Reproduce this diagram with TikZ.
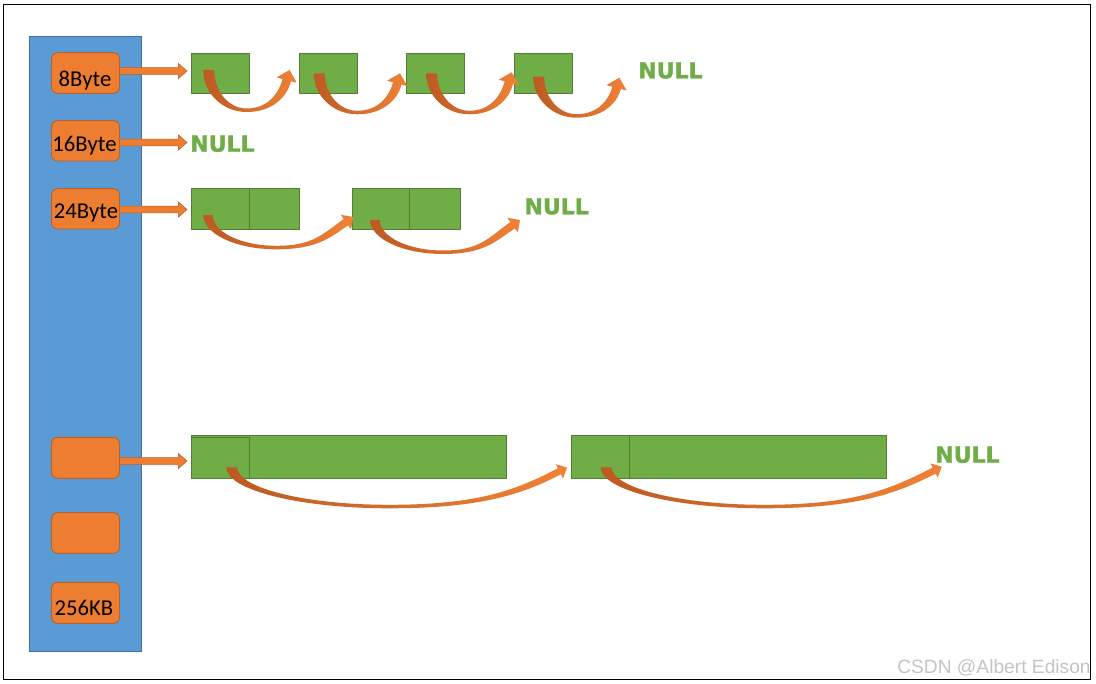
\documentclass[tikz,border=0pt]{standalone}
\usepackage{fontspec}
\setmainfont{Carlito}
\newfontfamily\dvs{DejaVu Sans}[BoldFeatures={FakeBold=1.6}]
\newfontfamily\lib{Liberation Sans}
\usetikzlibrary{calc}
\definecolor{blu}{HTML}{5B9BD5}
\definecolor{bluB}{HTML}{41719C}
\definecolor{org}{HTML}{ED7D31}
\definecolor{orgB}{HTML}{B8612A}
\definecolor{grn}{HTML}{70AD47}
\definecolor{grnB}{HTML}{507E32}
\definecolor{crvD}{HTML}{BC5A22}
\definecolor{crvL}{HTML}{F08236}
\definecolor{wmc}{HTML}{C4C4C4}
\newcommand\boxnode[6]{\node[#1, minimum width={(#5-#3)*0.75pt}, minimum height={(#6-#4)*0.75pt}] (#2) at ({(#3+#5)/2},{(#4+#6)/2}) {};}
\newcommand\harrow[2]{\path[sarr] let \p1=(#1), \p2=(#2) in (\x1,{\y2+2.5pt}) -- ({\x2-6.4pt},{\y2+2.5pt}) -- ({\x2-6.4pt},{\y2+5.6pt}) -- (\x2,\y2) -- ({\x2-6.4pt},{\y2-5.6pt}) -- ({\x2-6.4pt},{\y2-2.5pt}) -- (\x1,{\y2-2.5pt}) -- cycle;}
% #1 tx #2 ty #3 px #4 py #5 depth #6 angle #7 head half width #8 head length #9 tail half width
\newcommand\carrow[9]{%
\pgfmathsetmacro\caUx{cos(#6)}%
\pgfmathsetmacro\caUy{-sin(#6)}%
\pgfmathsetmacro\caNx{sin(#6)}%
\pgfmathsetmacro\caNy{cos(#6)}%
\pgfmathsetmacro\caHx{#3-#8*(\caUx)}%
\pgfmathsetmacro\caHy{#4-#8*(\caUy)}%
\pgfmathsetmacro\caSw{0.42*#7}%
\pgfmathsetmacro\caBx{#1+0.47*(#3-#1)}%
\pgfmathsetmacro\caBo{#2+#5}%
\pgfmathsetmacro\caBi{#2+#5-3.5}%
\pgfmathsetmacro\caOx{\caHx+\caSw*(\caNx)}%
\pgfmathsetmacro\caOy{\caHy+\caSw*(\caNy)}%
\pgfmathsetmacro\caIx{\caHx-\caSw*(\caNx)}%
\pgfmathsetmacro\caIy{\caHy-\caSw*(\caNy)}%
\pgfmathsetmacro\caRx{\caHx+#7*(\caNx)}%
\pgfmathsetmacro\caRy{\caHy+#7*(\caNy)}%
\pgfmathsetmacro\caLx{\caHx-#7*(\caNx)}%
\pgfmathsetmacro\caLy{\caHy-#7*(\caNy)}%
\pgfmathsetmacro\caLo{0.552*(\caBo-\caOy)/sin(#6)}%
\pgfmathsetmacro\caLi{0.552*(\caBi-\caIy)/sin(#6)}%
\path[crv] ({#1-#9},#2) .. controls ({#1-#9},{#2+0.552*#5}) and ({\caBx-0.552*(\caBx-#1+#9)},\caBo) .. (\caBx,\caBo)
 .. controls ({\caBx+0.552*(\caOx-\caBx)},\caBo) and ({\caOx-\caLo*(\caUx)},{\caOy-\caLo*(\caUy)}) .. (\caOx,\caOy)
 -- (\caRx,\caRy) -- (#3,#4) -- (\caLx,\caLy) -- (\caIx,\caIy)
 .. controls ({\caIx-\caLi*(\caUx)},{\caIy-\caLi*(\caUy)}) and ({\caBx+0.552*(\caIx-\caBx)},\caBi) .. (\caBx,\caBi)
 .. controls ({\caBx-0.552*(\caBx-#1-#9)},\caBi) and ({#1+#9},{#2+0.552*(#5-3.5)}) .. ({#1+#9},#2) -- cycle;}
\tikzset{
 frame/.style={draw=black, line width=0.8pt},
 bluebar/.style={fill=blu, draw=bluB, line width=0.6pt},
 obox/.style={fill=org, draw=orgB, line width=0.7pt, rounded corners=4.5pt, inner sep=0, outer sep=0},
 gbox/.style={fill=grn, draw=grnB, line width=0.6pt, inner sep=0, outer sep=0},
 sarr/.style={fill=org, draw=orgB, line width=0.4pt},
 crv/.style={left color=crvD, right color=crvL},
 otxt/.style={font=\fontsize{17}{18}\selectfont, text=black, inner sep=0},
 nulltxt/.style={font=\dvs\bfseries\fontsize{16.5}{18}\selectfont, text=grn, inner sep=0},
 wmtxt/.style={font=\lib\fontsize{14.4}{16}\selectfont, text=wmc, inner sep=0}
}
\begin{document}
\begin{tikzpicture}[x=0.75pt, y=-0.75pt]
\useasboundingbox (0,0) rectangle (1096,684);
\fill[white] (0,0) rectangle (1096,684);
% blue column
\boxnode{bluebar}{bar}{29.5}{36.7}{141.5}{651}
% orange size classes
\boxnode{obox}{o1}{51.5}{52.7}{119.5}{93.3}
\boxnode{obox}{o2}{51.5}{120.7}{119.5}{161}
\boxnode{obox}{o3}{51.5}{188.7}{119.5}{229}
\boxnode{obox}{o4}{51.5}{437.3}{119.5}{478.3}
\boxnode{obox}{o5}{51.5}{512.7}{119.5}{553.3}
\boxnode{obox}{o6}{51.5}{582.3}{119.5}{623.3}
\node[otxt, anchor=base] (o1t) at (85,87) {8Byte};
\node[otxt, anchor=base] (o2t) at (84.5,151.5) {16Byte};
\node[otxt, anchor=base] (o3t) at (86,218.3) {24Byte};
\node[otxt, anchor=base] (o6t) at (84,615) {256KB};
% green blocks row 1
\boxnode{gbox}{g11}{191.5}{53}{249.5}{93.3}
\boxnode{gbox}{g12}{299}{53}{357}{93.3}
\boxnode{gbox}{g13}{406.7}{53}{464.7}{93.3}
\boxnode{gbox}{g14}{514.3}{53}{572.3}{93.3}
% row 24
\boxnode{gbox}{g21a}{191.7}{188.3}{249.3}{229.3}
\boxnode{gbox}{g21b}{249.3}{188.3}{299.3}{229.3}
\boxnode{gbox}{g22a}{352.7}{188.3}{409.3}{229.3}
\boxnode{gbox}{g22b}{409.3}{188.3}{460.7}{229.3}
% bottom row
\boxnode{gbox}{g31}{191.7}{435}{506.7}{478.3}
\boxnode{gbox}{g31s}{191.7}{437.3}{249.3}{478.3}
\boxnode{gbox}{g32}{571.7}{435}{886.7}{478.3}
\draw[grnB, line width=0.6pt] (629.3,435) -- (629.3,478.3);
% NULL labels
\node[nulltxt, anchor=base] (n1) at (670.5,78.3) {NULL};
\node[nulltxt, anchor=base] (n2) at (222.5,151.7) {NULL};
\node[nulltxt, anchor=base] (n3) at (556.7,214.3) {NULL};
\node[nulltxt, anchor=base] (n4) at (967.5,462.7) {NULL};
% straight arrows
\coordinate (ta1) at (187,71);
\coordinate (ta2) at (187,142.5);
\coordinate (ta3) at (187,209.5);
\coordinate (ta4) at (187,461);
\harrow{o1.east}{ta1}
\harrow{o2.east}{ta2}
\harrow{o3.east}{ta3}
\harrow{o4.east}{ta4}
% curved arrows row 1
\carrow{208.7}{70}{289.5}{70}{42}{75}{10.5}{10.5}{5.5}
\carrow{319.3}{73.3}{400}{73.3}{41}{75}{10.5}{10.5}{5.5}
\carrow{431.7}{73.3}{511.7}{72.3}{41}{75}{10.5}{10.5}{5.5}
\carrow{538.7}{76.7}{619.3}{77.7}{41}{75}{10.5}{10.5}{5.5}
% row 24
\carrow{208}{215}{353.3}{217}{34.3}{35}{9}{9}{4.7}
\carrow{375}{220}{520}{220}{34}{35}{9}{9}{4.8}
% bottom row
\carrow{231.7}{467.3}{567}{467.5}{41}{27}{8}{8.5}{5.5}
\carrow{606.2}{467.3}{941.7}{466.7}{41}{27}{8}{8.5}{5.5}
% watermark
\node[wmtxt, anchor=base west] (wm) at (897,673) {CSDN @Albert Edison};
% outer frame
\draw[frame] (3.5,4.5) rectangle (1090.5,679.5);
\end{tikzpicture}
\end{document}
